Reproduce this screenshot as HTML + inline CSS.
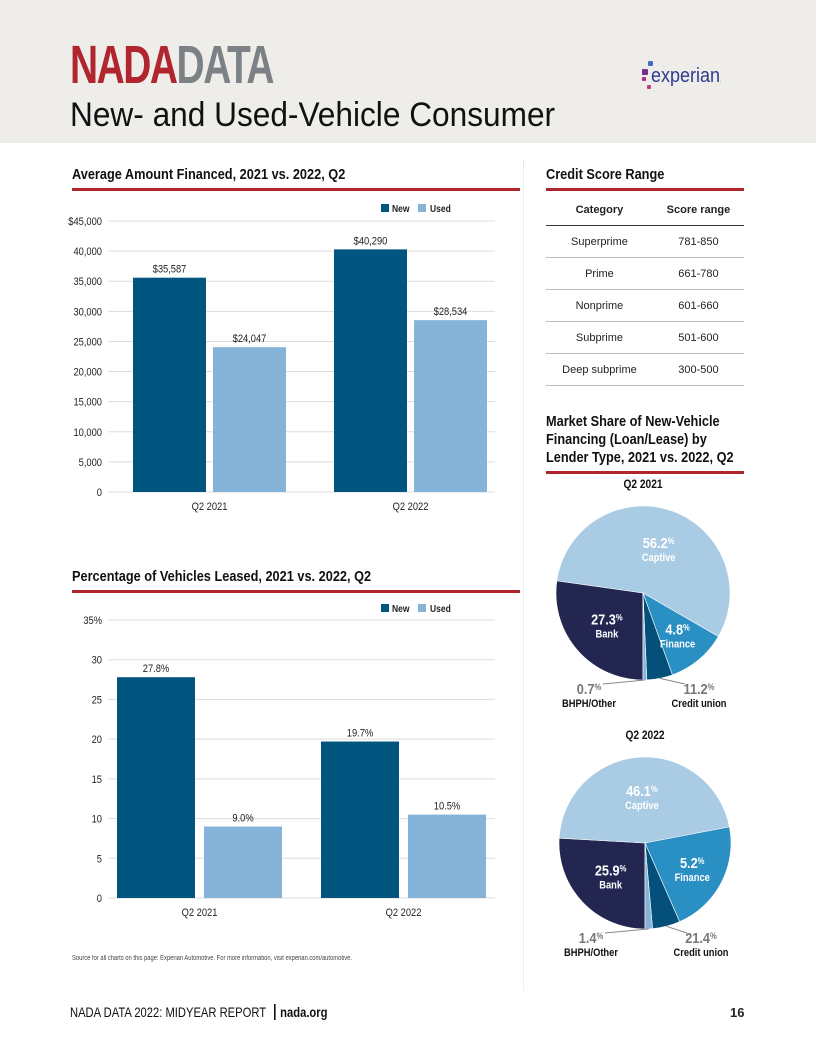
<!DOCTYPE html>
<html><head><meta charset="utf-8"><style>
body{margin:0;width:816px;height:1056px;background:#fff;position:relative;overflow:hidden;font-family:"Liberation Sans",sans-serif;color:#222}
.abs{position:absolute}
.sq{transform-origin:0 0;white-space:nowrap}
.title{font-weight:bold;font-size:15px;color:#111;transform:scaleX(0.85)}
.rule{position:absolute;height:3px;background:#b0252e}
table{border-collapse:collapse;font-size:11px}
td,th{text-align:center;border-bottom:1px solid #bbb;height:31px;padding:0}
th{font-weight:bold;border-bottom:1px solid #333}
</style></head><body>
<div class="abs" style="left:0;top:0;width:816px;height:143px;background:#eeedea"></div>
<div class="abs sq" style="left:70px;top:38px;font-size:54px;font-weight:bold;letter-spacing:-2px;line-height:54px;transform:scaleX(0.72)"><span style="color:#b0252e">NADA</span><span style="color:#7b8185">DATA</span></div>
<div class="abs sq" style="left:70px;top:96px;font-size:34px;color:#111;transform:scaleX(0.93)">New- and Used-Vehicle Consumer</div>
<div class="abs" style="left:642px;top:63px;font-size:20px;color:#2e3c8e">
<span style="position:absolute;left:0;top:6px;width:6px;height:6px;background:#7a2c8f;border-radius:1px"></span>
<span style="position:absolute;left:6px;top:-2px;width:5px;height:5px;background:#3f6fc0;border-radius:1px"></span>
<span style="position:absolute;left:0;top:14px;width:4px;height:4px;background:#b12a8a;border-radius:1px"></span>
<span style="position:absolute;left:5px;top:22px;width:4px;height:4px;background:#c23a8a;border-radius:1px"></span>
<span class="sq" style="position:absolute;left:9px;top:2px;transform:scaleX(0.9)">experian<span style="font-size:6px">.</span></span></div>

<div class="abs title sq" style="left:72px;top:166px">Average Amount Financed, 2021 vs. 2022, Q2</div>
<div class="rule" style="left:72px;top:188px;width:448px"></div>
<div class="abs title sq" style="left:72px;top:568px">Percentage of Vehicles Leased, 2021 vs. 2022, Q2</div>
<div class="rule" style="left:72px;top:590px;width:448px"></div>
<div class="abs" style="left:523px;top:160px;height:830px;border-left:1px dotted #ddd"></div>

<svg class="abs" style="left:0;top:0" width="816" height="1056" font-family="Liberation Sans, sans-serif">
<g id="c1"></g><g id="c2"></g><g id="pies"></g>
</svg>

<div class="abs title sq" style="left:546px;top:166px">Credit Score Range</div>
<div class="rule" style="left:546px;top:188px;width:198px"></div>
<table class="abs" style="left:546px;top:194px;width:198px">
<tr><th>Category</th><th>Score range</th></tr>
<tr><td>Superprime</td><td>781-850</td></tr>
<tr><td>Prime</td><td>661-780</td></tr>
<tr><td>Nonprime</td><td>601-660</td></tr>
<tr><td>Subprime</td><td>501-600</td></tr>
<tr><td>Deep subprime</td><td>300-500</td></tr>
</table>
<div class="abs title sq" style="left:546px;top:413px;line-height:18px">Market Share of New-Vehicle<br>Financing (Loan/Lease) by<br>Lender Type, 2021 vs. 2022, Q2</div>
<div class="rule" style="left:546px;top:471px;width:198px"></div>

<div class="abs sq" style="left:72px;top:955px;font-size:7px;color:#444;transform:scaleX(0.83)">Source for all charts on this page: Experian Automotive. For more information, visit experian.com/automotive.</div>
<div class="abs sq" style="left:70px;top:1004px;font-size:14px;color:#111;transform:scaleX(0.8)">NADA DATA 2022: MIDYEAR REPORT <span style="border-left:2px solid #111;margin:0 6px"></span><b>nada.org</b></div>
<div class="abs" style="left:730px;top:1005px;font-size:13px;font-weight:bold">16</div>

<script>
const NS='http://www.w3.org/2000/svg';
const groups1=['Q2 2021','Q2 2022'];
const newVals1=[35587,40290];
const usedVals1=[24047,28534];
const ticks1=[0,5000,10000,15000,20000,25000,30000,35000,40000,45000];
const groups2=['Q2 2021','Q2 2022'];
const newVals2=[27.8,19.7];
const usedVals2=[9.0,10.5];
const ticks2=[0,5,10,15,20,25,30,35];
const pieLabels=['Bank','Captive','Finance','Credit union','BHPH/Other'];
const pie2021=[27.3,56.2,11.2,4.8,0.7];
const pie2022=[25.9,46.1,21.4,5.2,1.4];
const pieText2021=['27.3','56.2','4.8','11.2','0.7'];
const pieText2022=['25.9','46.1','5.2','21.4','1.4'];

function mk(tag,attrs,parent,text){const e=document.createElementNS(NS,tag);for(const k in attrs)e.setAttribute(k,attrs[k]);if(text!==undefined)e.textContent=text;parent.appendChild(e);return e;}
// condensed text helper: horizontal squeeze around anchor x
function sq(x,y){return `translate(${x},${y}) scale(0.85,1)`;}

function bar(gid,groups,nv,uv,ticks,y0,y1,max,fmtTick,fmtVal,bw,offs,legY){
 const g=document.getElementById(gid);
 const y=v=>y0-(v/max)*(y0-y1);
 ticks.forEach((t,i)=>{
  const l=mk('line',{x1:108,x2:495,y1:y(t),y2:y(t),stroke:'#ddd'},g);
  
  
  const tx=mk('text',{transform:sq(102,y(t)+4),'text-anchor':'end','font-size':11,fill:'#222'},g,fmtTick(t,i));
  
  
 });
 groups.forEach((gr,i)=>{
  const xs=offs[i];
  [[nv[i],'#02557f',xs[0],'bar-new'],[uv[i],'#86b3d8',xs[1],'bar-used']].forEach(([v,c,x,n])=>{
   const r=mk('rect',{x:x,y:y(v),width:bw,height:y0-y(v),fill:c},g);
   
   
   const t=mk('text',{transform:sq(x+bw/2,y(v)-5),'text-anchor':'middle','font-size':11,fill:'#222'},g,fmtVal(v));
   
   
  });
  const gl=mk('text',{transform:sq((xs[0]+xs[1]+bw)/2,y0+18),'text-anchor':'middle','font-size':11,fill:'#222'},g,gr);
  
  
 });
 const lg=mk('g',{},g);
 
 
 mk('rect',{x:381,y:legY-8,width:8,height:8,fill:'#02557f'},lg);
 mk('text',{transform:sq(392,legY),'font-size':10,'font-weight':'bold',fill:'#222'},lg,'New');
 mk('rect',{x:418,y:legY-8,width:8,height:8,fill:'#86b3d8'},lg);
 mk('text',{transform:sq(430,legY),'font-size':10,'font-weight':'bold',fill:'#222'},lg,'Used');
}
bar('c1',groups1,newVals1,usedVals1,ticks1,492,221,45000,(t,i)=>i==ticks1.length-1?'$'+t.toLocaleString('en-US'):t==0?'0':t.toLocaleString('en-US'),v=>'$'+v.toLocaleString('en-US'),73,[[133,213],[334,414]],212);
bar('c2',groups2,newVals2,usedVals2,ticks2,898,620,35,(t,i)=>i==ticks2.length-1?t+'%':String(t),v=>v.toFixed(1)+'%',78,[[117,204],[321,408]],612);

const colors=['#222650','#a9cbe3','#2a8fc2','#04507a','#86b3d8'];
function pie(vals,texts,cx,cy,r,title){
 const g=document.getElementById('pies');
 const t=mk('text',{transform:sq(cx,cy-r-18),'text-anchor':'middle','font-size':12,'font-weight':'bold',fill:'#111'},g,title);
 
 
 const tot=vals.reduce((a,b)=>a+b,0);
 let a=0; const mids=[];
 const pt=(ang,rr)=>[cx-Math.sin(ang)*rr,cy+Math.cos(ang)*rr];
 vals.forEach((v,i)=>{
  const a0=a,a1=a+v/tot*2*Math.PI;a=a1;mids.push((a0+a1)/2);
  const p0=pt(a0,r),p1=pt(a1,r);
  const s=mk('path',{d:`M${cx},${cy}L${p0[0]},${p0[1]}A${r},${r} 0 ${a1-a0>Math.PI?1:0} 1 ${p1[0]},${p1[1]}Z`,fill:colors[i],stroke:'#fff','stroke-width':0.6},g);
  
  
 });
 const inside=[[0,0.55],[1,0.55],[2,0.62]];
 inside.forEach(([i,f])=>{
  const p=pt(mids[i],r*f);
  const tx=mk('text',{transform:sq(p[0],p[1]),'text-anchor':'middle','font-size':15,'font-weight':'bold',fill:'#fff'},g);
  
  
  mk('tspan',{},tx,texts[i]);mk('tspan',{'font-size':9,dy:-4},tx,'%');
  mk('text',{transform:sq(p[0],p[1]+13),'text-anchor':'middle','font-size':11,'font-weight':'bold',fill:'#fff'},g,i==2?'Finance':pieLabels[i]);
 });
 [[4,cx-54,'BHPH/Other'],[3,cx+56,'Credit union']].forEach(([i,x,n])=>{
  const p=pt(mids[i],r);
  mk('line',{x1:p[0],y1:p[1],x2:x+(i==4?14:-14),y2:cy+r+4,stroke:'#888'},g);
  const tx=mk('text',{transform:sq(x,cy+r+14),'text-anchor':'middle','font-size':15,'font-weight':'bold',fill:'#777'},g);
  
  
  mk('tspan',{},tx,texts[i]);mk('tspan',{'font-size':9,dy:-4},tx,'%');
  mk('text',{transform:sq(x,cy+r+27),'text-anchor':'middle','font-size':11,'font-weight':'bold',fill:'#111'},g,n);
 });
}
pie(pie2021,pieText2021,643,593,87,'Q2 2021');
pie(pie2022,pieText2022,645,843,86,'Q2 2022');
</script>
</body></html>
